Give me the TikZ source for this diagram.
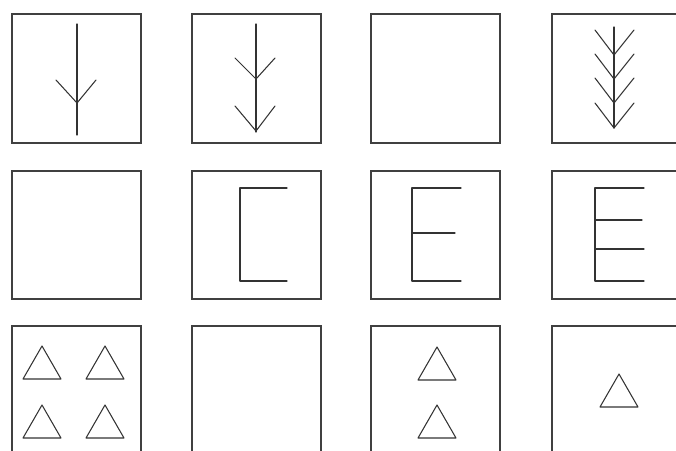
\documentclass[tikz,border=0pt]{standalone}
\begin{document}
\begin{tikzpicture}[x=0.03cm,y=-0.03cm,
  ln/.style={draw=black!80,line width=0.9pt,line cap=round,line join=round},
  frame/.style={draw=black!75,line width=1pt}]
\useasboundingbox (0,0) rectangle (676,450);
\clip (0,0) rectangle (676,450);
% frames
\foreach \x in {12,192,371,552}{
  \draw[frame] (\x,14) rectangle ++(129,129);
  \draw[frame] (\x,171) rectangle ++(129,128);
  \draw[frame] (\x,326) rectangle ++(129,129);
}
% row 1, box 1
\draw[ln] (77,24) -- (77,135);
\draw[ln] (56,80) -- (77,103) -- (96,80);
% row 1, box 2
\draw[ln] (256,24) -- (256,132);
\draw[ln] (235,58) -- (256,79) -- (275,58);
\draw[ln] (235,106) -- (256,131) -- (275,106);
% row 1, box 4
\draw[ln] (614,27) -- (614,128);
\foreach \y in {55,79,103,128}
  \draw[ln] (595,\y-25) -- (614,\y) -- (634,\y-25);
% row 2, box 2
\draw[ln] (287,188) -- (240,188) -- (240,281) -- (287,281);
% row 2, box 3
\draw[ln] (461,188) -- (412,188) -- (412,281) -- (461,281);
\draw[ln] (412,233) -- (455,233);
% row 2, box 4
\draw[ln] (644,188) -- (595,188) -- (595,281) -- (644,281);
\draw[ln] (595,220) -- (642,220);
\draw[ln] (595,249) -- (644,249);
% row 3, triangles
\foreach \cx/\ty in {42/346,105/346,42/405,105/405,437/347,437/405,619/374}
  \draw[ln] (\cx,\ty) -- (\cx+19,\ty+33) -- (\cx-19,\ty+33) -- cycle;
\end{tikzpicture}
\end{document}
